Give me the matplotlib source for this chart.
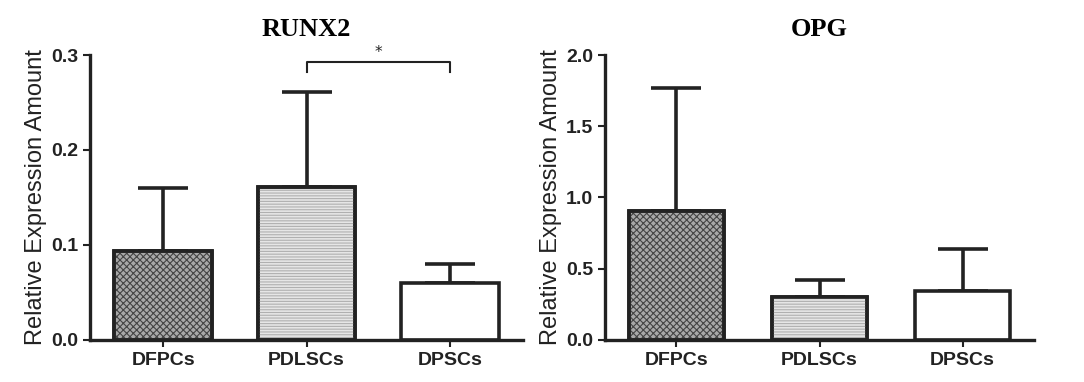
import matplotlib
matplotlib.use("Agg")
import matplotlib.pyplot as plt
import numpy as np

plt.rcParams['hatch.linewidth'] = 0.8

categories = ["DFPCs", "PDLSCs", "DPSCs"]
runx2_mean = [0.094, 0.161, 0.060]
runx2_upper = [0.160, 0.261, 0.080]
opg_mean = [0.905, 0.305, 0.342]
opg_upper = [1.77, 0.418, 0.640]
runx2_ticks = [0.0, 0.1, 0.2, 0.3]
opg_ticks = [0.0, 0.5, 1.0, 1.5, 2.0]
titles = ["RUNX2", "OPG"]
ylabel = "Relative Expression Amount"

fig = plt.figure(figsize=(10.84, 3.82), dpi=100)
axL = fig.add_axes([0.083, 0.11, 0.3995, 0.746])
axR = fig.add_axes([0.558, 0.11, 0.396, 0.746])

styles = [
    dict(facecolor="#a8a8a8", hatch="xxxxx", hatchcolor="#444444"),
    dict(facecolor="#e6e6e6", hatch="------", hatchcolor="#b0b0b0"),
    dict(facecolor="white", hatch=None, hatchcolor="black"),
]

def draw(ax, means, uppers, ticks, ymax, title, width, xlim):
    x = np.arange(len(categories))
    errs = np.array(uppers) - np.array(means)
    ax.errorbar(x, means, yerr=[np.zeros(len(x)), errs], fmt='none',
                ecolor='#222222', elinewidth=2.6, capsize=18, capthick=2.6, zorder=1)
    for i in range(len(x)):
        st = styles[i]
        ax.bar(x[i], means[i], width=width, facecolor=st["facecolor"],
               edgecolor='#222222', linewidth=2.6, zorder=2)
        if st["hatch"]:
            ax.bar(x[i], means[i], width=width, facecolor='none',
                   edgecolor=st["hatchcolor"], hatch=st["hatch"], linewidth=0, zorder=2.5)
            ax.bar(x[i], means[i], width=width, facecolor='none',
                   edgecolor='#222222', linewidth=2.6, zorder=3)
    ax.set_xlim(*xlim)
    ax.set_ylim(0, ymax)
    ax.set_yticks(ticks)
    ax.set_yticklabels([f"{t:.1f}" for t in ticks])
    ax.set_xticks(x)
    ax.set_xticklabels(categories)
    for s in ["top", "right"]:
        ax.spines[s].set_visible(False)
    for s in ["left", "bottom"]:
        ax.spines[s].set_linewidth(2.4)
        ax.spines[s].set_color('#222222')
    ax.tick_params(axis='both', width=1.5, length=5, color='#222222', direction='out')
    for lab in ax.get_xticklabels() + ax.get_yticklabels():
        lab.set_fontfamily("Liberation Sans")
        lab.set_fontweight("bold")
        lab.set_fontsize(14)
        lab.set_color('#222222')
    ax.set_ylabel(ylabel, fontfamily="Liberation Sans", fontsize=17, color='#222222', labelpad=3)
    ax.set_title(title, fontfamily="Liberation Serif", fontweight="bold", fontsize=19, pad=14)

draw(axL, runx2_mean, runx2_upper, runx2_ticks, 0.3, titles[0], 0.68, (-0.51, 2.51))
draw(axR, opg_mean, opg_upper, opg_ticks, 2.0, titles[1], 0.66, (-0.5, 2.5))

# significance bracket
sig_y = 0.293
sig_tip = 0.282
axL.plot([1, 1, 2, 2], [sig_tip, sig_y, sig_y, sig_tip], color='#222222', lw=1.5, clip_on=False)
axL.text(1.5, sig_y + 0.002, "*", ha='center', va='bottom', fontsize=11, color='#222222')

fig.savefig("out.png", dpi=100)
